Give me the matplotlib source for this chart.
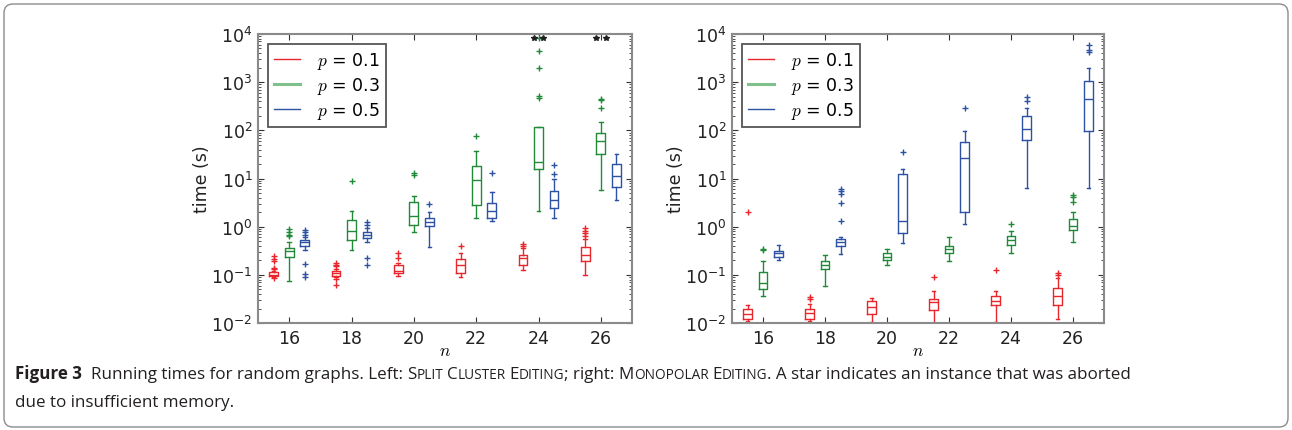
import matplotlib
matplotlib.use('Agg')
import matplotlib.pyplot as plt
import matplotlib.ticker as mticker
from matplotlib.lines import Line2D
from matplotlib.patches import FancyBboxPatch
from matplotlib.transforms import IdentityTransform
from matplotlib.font_manager import FontProperties

W, H = 1292, 431

sizes = [16, 18, 20, 22, 24, 26]
probs = [0.1, 0.3, 0.5]

# box stats: (whislo, q1, med, q3, whishi) per n
split_p1 = [(0.09, 0.093, 0.10, 0.113, 0.12), (0.089, 0.096, 0.107, 0.118, 0.13),
            (0.096, 0.107, 0.12, 0.16, 0.18), (0.092, 0.107, 0.16, 0.21, 0.29),
            (0.126, 0.16, 0.22, 0.26, 0.36), (0.10, 0.19, 0.26, 0.37, 0.55)]
split_p1_out = [[0.25, 0.21, 0.19, 0.14, 0.13, 0.085], [0.176, 0.16, 0.15, 0.082, 0.062],
                [0.28, 0.22], [0.40], [0.44, 0.40], [0.94, 0.83, 0.73, 0.65]]
split_p3 = [(0.076, 0.24, 0.32, 0.36, 0.49), (0.33, 0.53, 0.8, 1.4, 2.1),
            (0.79, 1.08, 1.64, 3.2, 4.4), (1.5, 2.8, 9.1, 18.6, 38),
            (2.1, 15.9, 21.8, 120, 120), (5.8, 32, 59, 89, 152)]
split_p3_out = [[0.9, 0.79, 0.67, 0.63], [8.8], [13.2, 11.9], [75],
                [8300, 4400, 2000, 510, 470], [450, 420, 290]]
split_p5 = [(0.33, 0.40, 0.47, 0.54, 0.6), (0.49, 0.57, 0.68, 0.76, 0.94),
            (0.37, 1.02, 1.27, 1.49, 2.05), (1.29, 1.51, 2.15, 3.05, 5.2),
            (1.5, 2.4, 3.6, 5.4, 10), (3.6, 6.6, 11.5, 20, 32.5)]
split_p5_out = [[0.87, 0.76, 0.67, 0.17, 0.104, 0.092], [1.23, 1.08, 0.22, 0.16],
                [2.95], [13], [19.5, 12.5], []]
# instances aborted for lack of memory (left panel only)
split_aborted = [0, 0, 0, 0, 2, 2]

mono_p1 = [(0.011, 0.0121, 0.0154, 0.0195, 0.0237), (0.011, 0.012, 0.016, 0.020, 0.025),
           (0.0107, 0.0154, 0.021, 0.028, 0.033), (0.0095, 0.019, 0.027, 0.0316, 0.047),
           (0.0105, 0.024, 0.028, 0.036, 0.047), (0.012, 0.024, 0.036, 0.054, 0.085)]
mono_p1_out = [[2.0], [0.035, 0.031], [], [0.091], [0.128], [0.11, 0.098]]
mono_p3 = [(0.037, 0.051, 0.067, 0.113, 0.197), (0.058, 0.132, 0.163, 0.197, 0.26),
           (0.16, 0.20, 0.24, 0.28, 0.34), (0.19, 0.28, 0.34, 0.40, 0.60),
           (0.29, 0.42, 0.54, 0.63, 0.83), (0.49, 0.87, 1.05, 1.44, 2.0)]
mono_p3_out = [[0.34, 0.33], [], [], [], [1.13], [4.5, 4.1, 3.3]]
mono_p5 = [(0.2, 0.24, 0.28, 0.32, 0.42), (0.27, 0.40, 0.49, 0.55, 0.62),
           (0.46, 0.73, 1.33, 12.5, 15.4), (1.14, 2.0, 27, 57, 95),
           (6.3, 64.5, 107, 203, 293), (6.4, 99, 437, 1050, 2000)]
mono_p5_out = [[], [6.0, 5.4, 4.8, 3.1, 1.33], [35], [288], [490, 415], [5800, 4600, 4150]]

colors = ['#e8262b', '#218a39', '#2d52a3']
legend_colors = ['#e8262b', '#80c08c', '#2d52a3']
legend_widths = [1.0, 2.2, 1.0]


def to_stats(boxes, outliers):
    return [dict(whislo=b[0], q1=b[1], med=b[2], q3=b[3], whishi=b[4], fliers=o)
            for b, o in zip(boxes, outliers)]


def draw_panel(ax, series, aborted=None):
    offsets = [-0.5, 0.0, 0.5]
    for (boxes, outs), col, off in zip(series, colors, offsets):
        lp = dict(color=col, linewidth=1.0)
        ax.bxp(to_stats(boxes, outs), positions=[n + off for n in sizes],
               widths=0.28, capwidths=0.12, manage_ticks=False,
               boxprops=lp, whiskerprops=lp, capprops=lp, medianprops=lp,
               flierprops=dict(marker='+', markeredgecolor=col, markersize=4.5,
                               markeredgewidth=1.0, linestyle='none'))
    if aborted:
        for n, k in zip(sizes, aborted):
            if k:
                xs = [n - 0.15 + 0.3 * i / max(k - 1, 1) for i in range(k)]
                ax.plot(xs, [8300] * k, linestyle='none', marker='*', color='#222222',
                        markersize=4, clip_on=False)

    ax.set_yscale('log')
    ax.set_ylim(1e-2, 1e4)
    ax.set_xlim(15, 27)
    ax.set_xticks(sizes)
    ax.set_xticklabels([str(n) for n in sizes])
    ax.xaxis.set_minor_locator(mticker.NullLocator())
    ax.yaxis.set_major_locator(mticker.LogLocator(base=10, numticks=10))
    ax.yaxis.set_minor_locator(mticker.LogLocator(base=10, subs=range(2, 10), numticks=20))
    ax.tick_params(which='both', direction='in', top=True, right=True,
                   labelsize=12.5, labelcolor='#222222', color='#333333')
    ax.tick_params(which='major', length=4, width=0.8, pad=4)
    ax.tick_params(which='minor', length=2, width=0.6)
    for sp in ax.spines.values():
        sp.set_color('#8a8a8a')
        sp.set_linewidth(1.5)
    ax.set_ylabel('time (s)', fontsize=12.5, color='#222222', labelpad=0)
    ax.set_xlabel('$n$', fontsize=12.5, math_fontfamily='cm', labelpad=-4)

    handles = [Line2D([], [], color=c, linewidth=w) for c, w in zip(legend_colors, legend_widths)]
    labels = ['$p$ = {}'.format(p) for p in probs]
    leg = ax.legend(handles, labels, loc='upper left',
                    prop=FontProperties(size=12.5, math_fontfamily='cm'),
                    handlelength=1.5, handletextpad=1.0, labelspacing=0.25,
                    borderaxespad=0.55, borderpad=0.35, fancybox=False, framealpha=1.0)
    leg.get_frame().set_edgecolor('#555555')
    leg.get_frame().set_linewidth(1.3)


fig = plt.figure(figsize=(W / 100, H / 100), dpi=100)
ax1 = fig.add_axes([258 / W, 1 - 324 / H, 374 / W, 289 / H])
ax2 = fig.add_axes([732 / W, 1 - 324 / H, 372 / W, 289 / H])

draw_panel(ax1, [(split_p1, split_p1_out), (split_p3, split_p3_out), (split_p5, split_p5_out)],
           aborted=split_aborted)
draw_panel(ax2, [(mono_p1, mono_p1_out), (mono_p3, mono_p3_out), (mono_p5, mono_p5_out)])

# rounded frame round the whole figure
frame = FancyBboxPatch((4, 3), W - 8, H - 8, boxstyle='round,pad=0,rounding_size=9',
                       transform=IdentityTransform(), facecolor='none',
                       edgecolor='#8c8c8c', linewidth=1.0)
fig.add_artist(frame)

# caption, with small caps built from runs of text
cap_font = 'Open Sans'
cap_color = '#231f20'
line1 = [('Figure 3 ', 'bold'), (' Running times for random graphs. Left: ', 'normal'),
         ('S', 'normal'), ('PLIT ', 'small'), ('C', 'normal'), ('LUSTER ', 'small'),
         ('E', 'normal'), ('DITING', 'small'), ('; right: ', 'normal'),
         ('M', 'normal'), ('ONOPOLAR ', 'small'), ('E', 'normal'), ('DITING', 'small'),
         ('. A star indicates an instance that was aborted', 'normal')]
line2 = [('due to insufficient memory.', 'normal')]

renderer = fig.canvas.get_renderer()


def run_width(s, size, weight):
    t = fig.text(0, 0, s, fontsize=size, fontweight=weight, family=cap_font)
    w = t.get_window_extent(renderer).width
    t.remove()
    return w


def place_line(x, y, runs, size, draw=True):
    for s, style in runs:
        fs = size * 0.8 if style == 'small' else size
        weight = 'bold' if style == 'bold' else 'normal'
        lead = len(s) - len(s.lstrip(' '))
        trail = len(s) - len(s.rstrip(' '))
        sp = run_width('a a', fs, weight) - run_width('aa', fs, weight)
        x += lead * sp
        core = s.strip(' ')
        if core:
            if draw:
                fig.text(x / W, y / H, core, fontsize=fs, fontweight=weight,
                         family=cap_font, color=cap_color, va='baseline')
            x += run_width(core, fs, weight)
        x += trail * sp
    return x


base = 12.0
end = place_line(15, H - 379, line1, base, draw=False)
size = base * (1128 - 15) / (end - 15)
place_line(15, H - 379, line1, size)
place_line(15, H - 407, line2, size)

fig.savefig('out.png', dpi=100)
